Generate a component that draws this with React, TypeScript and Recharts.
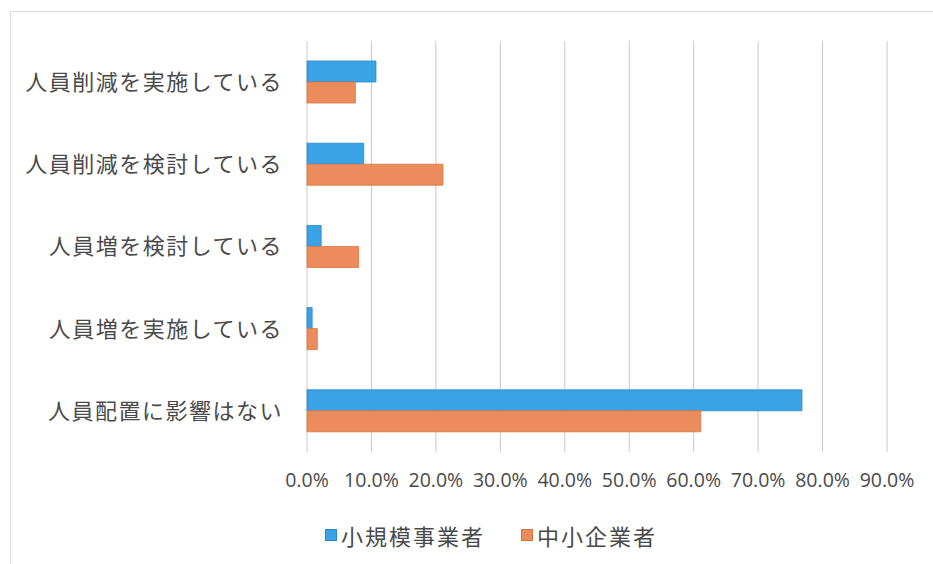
import { BarChart, Bar, XAxis, YAxis, CartesianGrid } from 'recharts';

const categories = [
    '人員削減を実施している',
    '人員削減を検討している',
    '人員増を検討している',
    '人員増を実施している',
    '人員配置に影響はない',
];

const smallBusiness = [0.107, 0.088, 0.022, 0.008, 0.768];
const smeBusiness = [0.075, 0.211, 0.08, 0.016, 0.611];

const xTicks = [0, 0.1, 0.2, 0.3, 0.4, 0.5, 0.6, 0.7, 0.8, 0.9];

const SERIES = [
    { key: 'small', name: '小規模事業者', color: '#3aa3e6', edge: '#2b86c7' },
    { key: 'sme', name: '中小企業者', color: '#ec8b5c', edge: '#d9753f' },
];

const data = categories.map((name, i) => ({
    name,
    small: smallBusiness[i],
    sme: smeBusiness[i],
}));

const TEXT = '#4a4a4a';
const CJK = '"Noto Sans CJK JP", "Noto Sans", sans-serif';

export default function App() {
    return (
        <div
            style={{
                position: 'absolute',
                left: 0,
                top: 0,
                width: 933,
                height: 564,
                background: '#fff',
                fontFamily: CJK,
            }}
        >
            <div
                style={{
                    position: 'absolute',
                    left: 10,
                    top: 11,
                    right: 0,
                    bottom: 0,
                    borderTop: '1px solid #dcdcdc',
                    borderLeft: '1px solid #dcdcdc',
                }}
            />
            <BarChart
                width={933}
                height={564}
                data={data}
                layout="vertical"
                margin={{ top: 41, right: 46, bottom: 82, left: 0 }}
                barGap={0}
                barSize={21}
            >
                <CartesianGrid horizontal={false} stroke="#c9c9c9" />
                <XAxis
                    type="number"
                    domain={[0, 0.9]}
                    ticks={xTicks}
                    height={30}
                    axisLine={false}
                    tickLine={false}
                    tickSize={0}
                    tickMargin={21}
                    interval={0}
                    tickFormatter={(v: number) => `${(v * 100).toFixed(1)}%`}
                    tick={{ fill: TEXT, fontSize: 19.5, fontFamily: '"Open Sans", sans-serif' }}
                />
                <YAxis
                    type="category"
                    dataKey="name"
                    width={307}
                    axisLine={false}
                    tickLine={false}
                    tickSize={0}
                    tickMargin={24}
                    tick={{ fill: TEXT, fontSize: 22, fontFamily: CJK, letterSpacing: 1.5 }}
                />
                {SERIES.map((s) => (
                    <Bar
                        key={s.key}
                        dataKey={s.key}
                        name={s.name}
                        fill={s.color}
                        stroke={s.edge}
                        strokeWidth={0.8}
                        isAnimationActive={false}
                    />
                ))}
            </BarChart>
            <div
                style={{
                    position: 'absolute',
                    left: 325,
                    top: 519,
                    display: 'flex',
                    alignItems: 'center',
                    fontSize: 22,
                    color: TEXT,
                    letterSpacing: 2,
                    lineHeight: '32px',
                }}
            >
                {SERIES.map((s, i) => (
                    <span
                        key={s.key}
                        style={{ display: 'flex', alignItems: 'center', marginLeft: i === 0 ? 0 : 36 }}
                    >
                        <span
                            style={{
                                display: 'inline-block',
                                width: 10,
                                height: 10,
                                background: s.color,
                                border: `1px solid ${s.edge}`,
                                marginRight: 4,
                            }}
                        />
                        {s.name}
                    </span>
                ))}
            </div>
        </div>
    );
}
